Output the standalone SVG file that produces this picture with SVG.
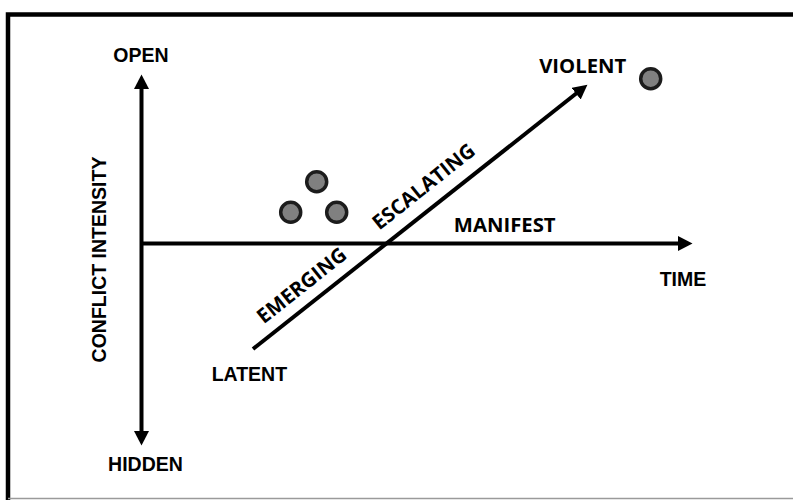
<svg xmlns="http://www.w3.org/2000/svg" width="793" height="500" viewBox="0 0 793 500">
  <defs>
    <marker id="arrow" markerUnits="userSpaceOnUse" markerWidth="15" markerHeight="16" refX="3" refY="7.5" orient="auto-start-reverse">
      <path d="M0,0 L14.5,7.5 L0,15 z" fill="#000"/>
    </marker>
    <style>
      .ax { stroke:#000; stroke-width:4; fill:none; }
      .lbl { font-family:"Liberation Sans", Arial, sans-serif; font-weight:bold; font-size:19.5px; fill:#000; }
      .lbl2 { font-family:"Open Sans", "Noto Sans", sans-serif; font-weight:bold; font-size:20.3px; fill:#000; }
      .dot { fill:#808080; stroke:#1c1c1c; stroke-width:3.5; }
    </style>
  </defs>
  <rect width="793" height="500" fill="#fff"/>
  <g id="frame">
    <path d="M8,500 L8,14.5 L793,14.5" stroke="#000" stroke-width="4.5" fill="none"/>
    <line x1="8" y1="498.5" x2="793" y2="498.5" stroke="#9a9a9a" stroke-width="1.5"/>
  </g>
  <g id="connectors">
    <line class="ax" x1="141.5" y1="86" x2="141.5" y2="434" marker-start="url(#arrow)" marker-end="url(#arrow)"/>
    <line class="ax" x1="141" y1="243.5" x2="681" y2="243.5" marker-end="url(#arrow)"/>
    <line class="ax" x1="253" y1="349" x2="578.4" y2="91.8" marker-end="url(#arrow)"/>
  </g>
  <g id="open"><text class="lbl" x="141" y="62" text-anchor="middle">OPEN</text></g>
  <g id="hidden"><text class="lbl" x="145.5" y="471" text-anchor="middle">HIDDEN</text></g>
  <g id="conflict-intensity"><text class="lbl" transform="translate(106,259.5) rotate(-90)" text-anchor="middle">CONFLICT INTENSITY</text></g>
  <g id="time"><text class="lbl" x="683" y="286" text-anchor="middle">TIME</text></g>
  <g id="latent"><text class="lbl" x="249.4" y="381" text-anchor="middle">LATENT</text></g>
  <g id="violent"><text class="lbl2" x="582.7" y="72.7" text-anchor="middle">VIOLENT</text></g>
  <g id="manifest"><text class="lbl2" x="504.7" y="231.7" text-anchor="middle">MANIFEST</text></g>
  <g id="escalating"><text class="lbl2" transform="translate(428,192) rotate(-38.5)" text-anchor="middle">ESCALATING</text></g>
  <g id="emerging"><text class="lbl2" transform="translate(306,291) rotate(-38.5)" text-anchor="middle">EMERGING</text></g>
  <g id="dots">
    <circle class="dot" cx="316.7" cy="181.7" r="10"/>
    <circle class="dot" cx="290.7" cy="212.3" r="10"/>
    <circle class="dot" cx="336.7" cy="212.3" r="10"/>
    <circle class="dot" cx="650.7" cy="78.7" r="10"/>
  </g>
</svg>
